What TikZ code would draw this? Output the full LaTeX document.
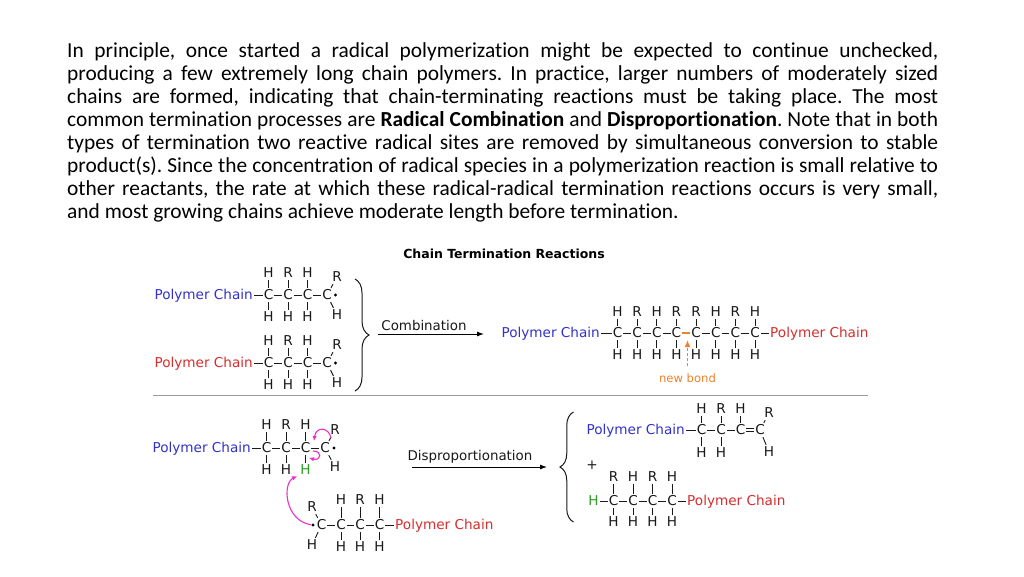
\documentclass[tikz,border=0pt]{standalone}
\usepackage{fontspec}
\usetikzlibrary{arrows.meta,decorations.pathreplacing}
\newfontfamily\bodyfont[Ligatures={NoCommon}]{Carlito}
\newfontfamily\diagfont{DejaVu Sans}
\definecolor{pcblue}{RGB}{50,50,200}
\definecolor{pcred}{RGB}{215,45,45}
\definecolor{hgreen}{RGB}{40,160,40}
\definecolor{nborange}{RGB}{240,130,40}
\definecolor{arrmag}{RGB}{235,50,200}
\definecolor{rulegray}{RGB}{155,155,155}
\definecolor{inkgray}{RGB}{25,25,25}
\begin{document}
\frenchspacing
\begin{tikzpicture}[x=1pt,y=-1pt,
  atom/.style={font=\diagfont\fontsize{13.6}{15}\selectfont, inner xsep=1pt, inner ysep=2pt, text height=9.9pt, text depth=0pt, text=inkgray},
  blab/.style={atom, text=pcblue},
  rlab/.style={atom, text=pcred},
  gatom/.style={atom, text=hgreen},
  bond/.style={draw=inkgray, line width=0.9pt},
  newbondline/.style={draw=nborange, line width=2.8pt},
  rad/.style={circle, fill=black, inner sep=0pt, minimum size=3.4pt},
  para/.style={font=\bodyfont\fontsize{21.4}{23}\selectfont, inner sep=0pt, anchor=base west, text=black},
  rxarrow/.style={draw=black, line width=0.9pt, -{Latex[length=7pt,width=5pt]}},
  rxlabel/.style={font=\diagfont\fontsize{13.4}{15}\selectfont, inner sep=0pt, anchor=base, text=inkgray},
  nbarrow/.style={draw=nborange, line width=1.4pt, dash pattern=on 3pt off 2pt, -{Latex[length=7pt,width=6pt]}},
  magarrow/.style={draw=arrmag, line width=1.1pt, -{Latex[length=5pt,width=4.5pt]}},
  bracket/.style={draw=inkgray, line width=1pt, decorate},
  sepline/.style={draw=rulegray, line width=1.3pt}
]
\useasboundingbox (0,0) rectangle (1024,576);
\fill[white] (0,0) rectangle (1024,576);

% ---------- paragraph ----------
\node[para] (l1) at (67,57)  {\hbox to 871pt{In principle, once started a radical polymerization might be expected to continue unchecked,}};
\node[para] (l2) at (67,80)  {\hbox to 871pt{producing a few extremely long chain polymers. In practice, larger numbers of moderately sized}};
\node[para] (l3) at (67,103) {\hbox to 871pt{chains are formed, indicating that chain-terminating reactions must be taking place. The most}};
\node[para] (l4) at (67,126) {\hbox to 871pt{common termination processes are \textbf{Radical Combination} and \textbf{Disproportionation}. Note that in both}};
\node[para] (l5) at (67,149) {\hbox to 871pt{types of termination two reactive radical sites are removed by simultaneous conversion to stable}};
\node[para] (l6) at (67,172) {\hbox to 871pt{product(s). Since the concentration of radical species in a polymerization reaction is small relative to}};
\node[para] (l7) at (67,195) {\hbox to 871pt{other reactants, the rate at which these radical-radical termination reactions occurs is very small,}};
\node[para] (l8) at (67,218) {and most growing chains achieve moderate length before termination.};

% ---------- title ----------
\node[font=\diagfont\bfseries\fontsize{12.5}{14}\selectfont, inner sep=0pt, anchor=base, text=black] (title) at (504,258) {Chain Termination Reactions};

% ---------- chain A (blue, top) ----------
\foreach \i/\x in {1/268.5,2/288,3/307.5,4/327} \node[atom] (a\i) at (\x,295) {C};
\foreach \i/\t in {1/H,2/R,3/H} {
  \node[atom] (au\i) at ([yshift=22pt]a\i.center) {\t};
  \node[atom] (ad\i) at ([yshift=-22pt]a\i.center) {H};
  \draw[bond] (a\i) -- (au\i) (a\i) -- (ad\i);
}
\draw[bond] (a1) -- (a2) (a2) -- (a3) (a3) -- (a4);
\node[blab, anchor=east] (aL) at (254,295) {Polymer Chain};
\draw[bond] (aL) -- (a1);
\node[atom] (aR) at (337,277) {R};
\node[atom] (aH) at (337,315) {H};
\node[rad] (aD) at (335.5,295) {};
\draw[bond] (a4) -- (aR) (a4) -- (aH);

% ---------- chain B (red, top) ----------
\foreach \i/\x in {1/268.5,2/288,3/307.5,4/327} \node[atom] (b\i) at (\x,363) {C};
\foreach \i/\t in {1/H,2/R,3/H} {
  \node[atom] (bu\i) at ([yshift=22pt]b\i.center) {\t};
  \node[atom] (bd\i) at ([yshift=-22pt]b\i.center) {H};
  \draw[bond] (b\i) -- (bu\i) (b\i) -- (bd\i);
}
\draw[bond] (b1) -- (b2) (b2) -- (b3) (b3) -- (b4);
\node[rlab, anchor=east] (bL) at (254,363) {Polymer Chain};
\draw[bond] (bL) -- (b1);
\node[atom] (bR) at (337,345) {R};
\node[atom] (bH) at (337,383) {H};
\node[rad] (bD) at (335.5,363) {};
\draw[bond] (b4) -- (bR) (b4) -- (bH);

% brace and combination arrow
\draw[bracket, decoration={brace, amplitude=14pt}] (355,279) -- (355,391);
\coordinate (cst) at (378,334);
\coordinate (cen) at (484,334);
\draw[rxarrow] (cst) -- (cen);
\node[rxlabel] (comb) at (424,330) {Combination};

% ---------- combination product ----------
\foreach \i/\x/\t in {1/617.5/H,2/637.15/R,3/656.8/H,4/676.45/R,5/696.1/R,6/715.75/H,7/735.4/R,8/755.05/H} {
  \node[atom] (p\i) at (\x,333) {C};
  \node[atom] (pu\i) at ([yshift=21pt]p\i.center) {\t};
  \node[atom] (pd\i) at ([yshift=-22pt]p\i.center) {H};
  \draw[bond] (p\i) -- (pu\i) (p\i) -- (pd\i);
}
\draw[bond] (p1) -- (p2) (p2) -- (p3) (p3) -- (p4) (p5) -- (p6) (p6) -- (p7) (p7) -- (p8);
\draw[newbondline] (p4) -- (p5);
\node[blab, anchor=east] (pL) at (601,333) {Polymer Chain};
\node[rlab, anchor=west] (pR) at (769,333) {Polymer Chain};
\draw[bond] (pL) -- (p1) (p8) -- (pR);
\node[font=\diagfont\fontsize{11.6}{13}\selectfont, text=nborange, inner sep=0pt] (nb) at (687.5,378) {new bond};
\coordinate (nbtip) at (687.5,340);
\draw[nbarrow] ([yshift=7pt]nb.north) -- (nbtip);

% separator
\coordinate (s1) at (153,395.5);
\coordinate (s2) at (868,395.5);
\draw[sepline] (s1) -- (s2);

% ---------- chain C (blue, disproportionation) ----------
\foreach \i/\x in {1/266.5,2/286,3/305.5,4/325} \node[atom] (c\i) at (\x,448) {C};
\foreach \i/\t in {1/H,2/R,3/H} \node[atom] (cu\i) at ([yshift=23pt]c\i.center) {\t};
\node[atom] (cd1) at ([yshift=-22pt]c1.center) {H};
\node[atom] (cd2) at ([yshift=-22pt]c2.center) {H};
\node[gatom] (cd3) at ([yshift=-22pt]c3.center) {H};
\foreach \i in {1,2,3} \draw[bond] (c\i) -- (cu\i) (c\i) -- (cd\i);
\draw[bond] (c1) -- (c2) (c2) -- (c3) (c3) -- (c4);
\node[blab, anchor=east] (cL) at (252,448) {Polymer Chain};
\draw[bond] (cL) -- (c1);
\node[atom] (cR) at (335,430) {R};
\node[atom] (cH) at (335,467) {H};
\node[rad] (cD) at (334,448) {};
\draw[bond] (c4) -- (cR) (c4) -- (cH);

% ---------- chain D (red, disproportionation) ----------
\foreach \i/\x in {1/321.5,2/341,3/360,4/379.5} \node[atom] (d\i) at (\x,525) {C};
\node[atom] (du2) at ([yshift=25pt]d2.center) {H};
\node[atom] (du3) at ([yshift=25pt]d3.center) {R};
\node[atom] (du4) at ([yshift=25pt]d4.center) {H};
\foreach \i in {2,3,4} {
  \node[atom] (dd\i) at ([yshift=-22pt]d\i.center) {H};
  \draw[bond] (d\i) -- (du\i) (d\i) -- (dd\i);
}
\draw[bond] (d1) -- (d2) (d2) -- (d3) (d3) -- (d4);
\node[rlab, anchor=west] (dL) at (394,525) {Polymer Chain};
\draw[bond] (d4) -- (dL);
\node[atom] (dR) at (312,507) {R};
\node[atom] (dH) at (312,545) {H};
\node[rad] (dD) at (313,525) {};
\draw[bond] (d1) -- (dR) (d1) -- (dH);

% magenta electron-pushing arrows
\coordinate (m1s) at (331,438);
\coordinate (m1e) at (314,441);
\draw[magarrow] (m1s) .. controls (329,427) and (316,426) .. (m1e);
\coordinate (m2s) at (313,451);
\coordinate (m2e) at (309,458);
\draw[magarrow] (m2s) .. controls (323,451) and (321,461) .. (m2e);
\coordinate (m3e) at (297,476);
\draw[magarrow] (dD) .. controls (285,521) and (282,484) .. (m3e);

% disproportionation arrow
\coordinate (dst) at (412,467);
\coordinate (den) at (547,467);
\draw[rxarrow] (dst) -- (den);
\node[rxlabel] (disp) at (470,460) {Disproportionation};

% brace for products
\draw[bracket, decoration={brace, amplitude=13.5pt}] (573.5,522) -- (573.5,412);

% ---------- product 1 (alkene) ----------
\foreach \i/\x in {1/701.5,2/721,3/740.5,4/760} \node[atom] (q\i) at (\x,430) {C};
\foreach \i/\t in {1/H,2/R,3/H} {
  \node[atom] (qu\i) at ([yshift=21pt]q\i.center) {\t};
  \draw[bond] (q\i) -- (qu\i);
}
\foreach \i in {1,2} {
  \node[atom] (qd\i) at ([yshift=-23pt]q\i.center) {H};
  \draw[bond] (q\i) -- (qd\i);
}
\draw[bond] (q1) -- (q2) (q2) -- (q3);
\draw[bond] ([yshift=1.6pt]q3.east) -- ([yshift=1.6pt]q4.west);
\draw[bond] ([yshift=-1.6pt]q3.east) -- ([yshift=-1.6pt]q4.west);
\node[blab, anchor=east] (qL) at (686,430) {Polymer Chain};
\draw[bond] (qL) -- (q1);
\node[atom] (qR) at (769,413) {R};
\node[atom] (qH) at (769,452) {H};
\draw[bond] (q4) -- (qR) (q4) -- (qH);

\node[atom] (plus) at (592,465) {+};

% ---------- product 2 (saturated) ----------
\node[gatom] (rH) at (593.5,501) {H};
\foreach \i/\x/\t in {1/613.5/R,2/633/H,3/652.5/R,4/672/H} {
  \node[atom] (r\i) at (\x,501) {C};
  \node[atom] (ru\i) at ([yshift=24pt]r\i.center) {\t};
  \node[atom] (rd\i) at ([yshift=-21pt]r\i.center) {H};
  \draw[bond] (r\i) -- (ru\i) (r\i) -- (rd\i);
}
\draw[bond] (rH) -- (r1) (r1) -- (r2) (r2) -- (r3) (r3) -- (r4);
\node[rlab, anchor=west] (rL) at (686,501) {Polymer Chain};
\draw[bond] (r4) -- (rL);
\end{tikzpicture}
\end{document}
